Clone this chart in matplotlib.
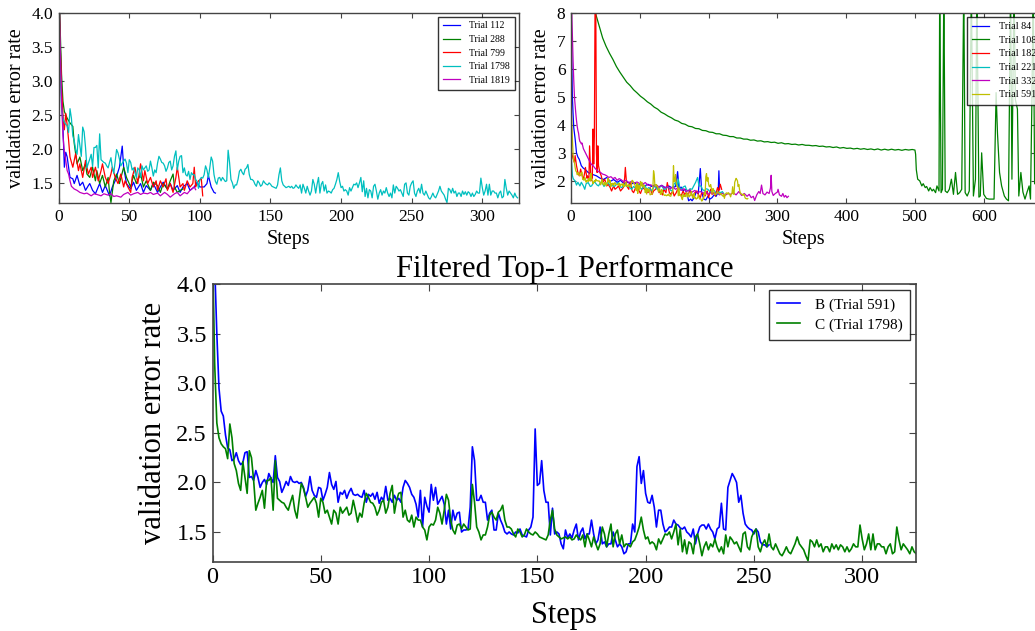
import matplotlib
matplotlib.use("Agg")
import matplotlib.pyplot as plt

plt.rcParams['font.family'] = ['Liberation Serif', 'DejaVu Serif']
plt.rcParams['xtick.direction'] = 'in'
plt.rcParams['ytick.direction'] = 'in'
plt.rcParams['xtick.top'] = True
plt.rcParams['ytick.right'] = True

# ---- data -------------------------------------------------------------
# B (Trial 591), one value per step
trial_591 = [
    4.6, 4.2, 3.5, 2.95, 2.72, 2.67, 2.48, 2.35, 2.33, 2.22,
    2.24, 2.30, 2.22, 2.18, 2.20, 2.30, 2.31, 2.05, 2.06, 2.02,
    2.12, 2.05, 1.95, 2.00, 2.03, 1.98, 2.09, 2.04, 2.00, 2.27,
    2.05, 2.01, 1.90, 1.95, 2.01, 1.97, 2.06, 2.01, 2.00, 2.01,
    1.99, 2.00, 1.95, 1.86, 1.92, 2.06, 1.92, 1.87, 1.85, 1.95,
    1.94, 1.82, 1.88, 1.95, 2.10, 1.98, 1.93, 2.01, 1.80, 1.90,
    1.88, 1.92, 1.84, 1.90, 1.94, 1.88, 1.87, 1.88, 1.86, 1.85,
    1.92, 1.80, 1.88, 1.86, 1.89, 1.83, 1.90, 1.79, 1.85, 1.82,
    1.96, 1.82, 1.84, 1.80, 1.87, 1.82, 1.84, 1.80, 1.95, 2.02,
    1.99, 1.95, 1.88, 1.85, 1.78, 1.65, 1.92, 1.55, 1.85, 1.76,
    1.70, 1.98, 1.82, 1.95, 1.78, 1.82, 1.86, 1.78, 1.58, 1.72,
    1.53, 1.72, 1.62, 1.69, 1.70, 1.50, 1.52, 1.52, 1.53, 1.75,
    2.36, 2.22, 1.82, 1.82, 1.87, 1.80, 1.80, 1.62, 1.69, 1.72,
    1.52, 1.52, 1.69, 1.62, 1.57, 1.50, 1.48, 1.50, 1.48, 1.47,
    1.50, 1.49, 1.53, 1.47, 1.46, 1.45, 1.52, 1.55, 1.65, 2.54,
    1.97, 1.99, 2.22, 1.92, 1.80, 1.80, 1.47, 1.74, 1.48, 1.50,
    1.48, 1.38, 1.33, 1.52, 1.44, 1.48, 1.44, 1.52, 1.58, 1.42,
    1.50, 1.54, 1.43, 1.48, 1.48, 1.62, 1.48, 1.38, 1.42, 1.55,
    1.38, 1.40, 1.35, 1.38, 1.38, 1.50, 1.42, 1.35, 1.38, 1.35,
    1.28, 1.30, 1.38, 1.38, 1.58, 1.50, 2.16, 2.26, 1.99, 2.12,
    1.89, 1.80, 1.79, 1.87, 1.75, 1.55, 1.72, 1.72, 1.58, 1.50,
    1.52, 1.55, 1.55, 1.62, 1.58, 1.57, 1.54, 1.53, 1.55, 1.50,
    1.48, 1.45, 1.53, 1.38, 1.48, 1.55, 1.57, 1.57, 1.53, 1.58,
    1.53, 1.50, 1.43, 1.53, 1.55, 1.79, 1.53, 1.52, 1.95, 2.02,
    2.09, 2.05, 2.00, 1.80, 1.87, 1.69, 1.58, 1.55, 1.53, 1.52,
    1.48, 1.53, 1.50, 1.40, 1.37, 1.37, 1.35, 1.37,
]

# C (Trial 1798), one value per step
trial_1798 = [
    4.4, 3.2, 2.6, 2.45, 2.39, 2.36, 2.34, 2.24, 2.59, 2.45,
    2.19, 2.12, 1.99, 1.92, 2.21, 2.05, 1.89, 2.32, 2.25, 2.02,
    1.72, 1.79, 1.85, 1.92, 1.74, 2.02, 2.02, 2.05, 1.72, 2.22,
    1.84, 1.82, 1.80, 1.79, 1.75, 1.72, 1.80, 1.87, 1.72, 1.64,
    1.82, 1.99, 1.94, 1.85, 1.75, 1.79, 1.82, 1.85, 1.79, 1.65,
    1.84, 1.80, 1.69, 1.72, 1.65, 1.58, 1.72, 1.69, 1.58, 1.75,
    1.69, 1.72, 1.75, 1.67, 1.69, 1.82, 1.72, 1.60, 1.69, 1.65,
    1.79, 1.89, 1.85, 1.80, 1.79, 1.75, 1.67, 1.72, 1.80, 1.82,
    1.69, 1.75, 1.89, 1.97, 1.69, 1.82, 1.89, 1.90, 1.65, 1.72,
    1.62, 1.60, 1.67, 1.55, 1.65, 1.62, 1.62, 1.55, 1.52, 1.42,
    1.55, 1.58, 1.57, 1.62, 1.75, 1.69, 1.58, 1.72, 1.88, 1.82,
    1.62, 1.52, 1.48, 1.57, 1.58, 1.53, 1.58, 1.55, 1.52, 1.53,
    1.98, 1.80, 1.55, 1.50, 1.42, 1.47, 1.47, 1.55, 1.67, 1.70,
    1.65, 1.62, 1.70, 1.72, 1.77, 1.62, 1.55, 1.55, 1.53, 1.48,
    1.45, 1.53, 1.50, 1.45, 1.47, 1.53, 1.50, 1.48, 1.47, 1.50,
    1.48, 1.45, 1.44, 1.43, 1.42, 1.47, 1.62, 1.72, 1.53, 1.47,
    1.45, 1.43, 1.44, 1.45, 1.43, 1.45, 1.42, 1.43, 1.47, 1.44,
    1.42, 1.47, 1.35, 1.48, 1.42, 1.35, 1.45, 1.38, 1.32, 1.38,
    1.55, 1.48, 1.35, 1.48, 1.58, 1.35, 1.48, 1.52, 1.38, 1.47,
    1.35, 1.38, 1.37, 1.35, 1.40, 1.42, 1.48, 1.55, 1.65, 1.52,
    1.43, 1.45, 1.38, 1.40, 1.38, 1.32, 1.43, 1.38, 1.43, 1.48,
    1.47, 1.50, 1.43, 1.50, 1.58, 1.37, 1.53, 1.30, 1.42, 1.28,
    1.40, 1.38, 1.28, 1.45, 1.48, 1.38, 1.26, 1.35, 1.40, 1.32,
    1.38, 1.35, 1.43, 1.35, 1.30, 1.35, 1.28, 1.47, 1.35, 1.45,
    1.42, 1.38, 1.40, 1.35, 1.30, 1.48, 1.50, 1.35, 1.32, 1.45,
    1.50, 1.53, 1.35, 1.30, 1.38, 1.42, 1.35, 1.48, 1.35, 1.32,
    1.38, 1.33, 1.28, 1.26, 1.30, 1.35, 1.30, 1.28, 1.33, 1.38,
    1.45, 1.38, 1.35, 1.32, 1.26, 1.21, 1.42, 1.40, 1.35, 1.42,
    1.35, 1.38, 1.30, 1.35, 1.35, 1.30, 1.38, 1.33, 1.37, 1.32,
    1.37, 1.35, 1.30, 1.35, 1.30, 1.33, 1.38, 1.35, 1.35, 1.57,
    1.43, 1.32, 1.38, 1.48, 1.32, 1.48, 1.32, 1.38, 1.38, 1.35,
    1.35, 1.28, 1.35, 1.38, 1.28, 1.30, 1.55, 1.42, 1.32, 1.38,
    1.35, 1.32, 1.28, 1.35, 1.30, 1.28,
]

# other trials as (step, value) pairs
trial_112 = [
    (0, 4.6), (1, 3.6), (2, 2.8), (3, 2.33), (4, 1.73), (5, 1.95), (6, 1.88),
    (7, 1.73), (8, 1.58), (10, 1.56), (11, 1.49), (13, 1.61), (15, 1.46),
    (17, 1.51), (19, 1.39), (21, 1.46), (22, 1.49), (24, 1.39), (26, 1.34),
    (29, 1.49), (31, 1.36), (33, 1.46), (36, 1.31), (38, 1.44), (40, 1.53),
    (43, 1.73), (45, 2.04), (46, 1.73), (48, 1.49), (51, 1.41), (53, 1.51),
    (55, 1.39), (58, 1.49), (60, 1.36), (62, 1.46), (65, 1.39), (67, 1.49),
    (70, 1.36), (72, 1.44), (74, 1.51), (77, 1.41), (79, 1.49), (81, 1.39),
    (84, 1.46), (86, 1.36), (88, 1.44), (91, 1.49), (93, 1.39), (96, 1.44),
    (98, 1.51), (100, 1.44), (103, 1.44), (105, 1.49), (106, 1.61),
    (108, 1.44), (110, 1.36), (111, 1.35),
]
trial_288 = [
    (0, 4.5), (1, 3.8), (2, 3.1), (3, 2.7), (4, 2.55), (6, 2.45), (8, 2.38),
    (10, 2.33), (11, 2.08), (12, 1.93), (13, 1.78), (15, 1.88), (17, 1.68),
    (19, 1.78), (20, 1.63), (22, 1.58), (24, 1.73), (26, 1.53), (27, 1.68),
    (29, 1.49), (31, 1.61), (33, 1.44), (35, 1.58), (36, 1.36), (37, 1.21),
    (39, 1.53), (41, 1.63), (43, 1.49), (46, 1.73), (48, 1.58), (51, 1.44),
    (53, 1.61), (55, 1.49), (58, 1.63), (60, 1.44), (62, 1.53), (65, 1.39),
    (67, 1.51), (70, 1.46), (72, 1.36), (74, 1.49), (77, 1.41), (79, 1.53),
    (81, 1.63), (82, 1.44), (84, 1.36), (86, 1.39), (88, 1.41),
]
trial_799 = [
    (0, 4.5), (1, 3.6), (2, 2.9), (3, 2.5), (4, 2.28), (5, 2.52), (6, 2.35),
    (7, 2.13), (8, 1.88), (10, 1.73), (12, 1.93), (14, 1.68), (15, 1.78),
    (17, 1.58), (19, 1.83), (21, 1.63), (23, 1.73), (24, 1.58), (26, 1.73),
    (28, 1.53), (30, 1.68), (31, 1.78), (33, 1.58), (35, 1.49), (37, 1.63),
    (38, 1.73), (40, 1.58), (42, 1.49), (44, 1.63), (46, 1.44), (47, 1.53),
    (49, 1.44), (51, 1.36), (52, 1.58), (54, 1.73), (56, 1.49), (58, 1.78),
    (60, 1.53), (61, 1.68), (63, 1.49), (65, 1.58), (67, 1.44), (69, 1.53),
    (70, 1.39), (72, 1.53), (74, 1.44), (76, 1.56), (77, 1.39), (79, 1.49),
    (81, 1.36), (83, 1.58), (84, 1.73), (86, 1.44), (88, 1.49), (89, 1.39),
    (91, 1.53), (93, 1.44), (95, 1.49), (96, 1.73), (97, 1.44), (99, 1.53),
    (101, 1.56), (102, 1.31),
]
trial_1819 = [
    (0, 4.5), (1, 3.5), (2, 2.7), (3, 2.2), (4, 1.95), (5, 1.83), (6, 1.68),
    (7, 1.63), (8, 1.53), (9, 1.45), (11, 1.41), (13, 1.39), (15, 1.36),
    (18, 1.34), (20, 1.35), (23, 1.31), (25, 1.34), (27, 1.33), (30, 1.31),
    (32, 1.34), (35, 1.32), (37, 1.34), (39, 1.30), (41, 1.31), (44, 1.29),
    (46, 1.33), (49, 1.36), (51, 1.32), (53, 1.34), (56, 1.36), (58, 1.33),
    (60, 1.35), (63, 1.34), (65, 1.36), (67, 1.33), (70, 1.35), (72, 1.31),
    (75, 1.36), (77, 1.33), (79, 1.29), (82, 1.34), (84, 1.36), (86, 1.31),
    (89, 1.36), (91, 1.34), (93, 1.39), (96, 1.44), (97, 1.40),
]

trial_84 = [
    (0, 8.5), (1, 6.5), (2, 5.0), (3, 4.4), (4, 3.9), (6, 3.5), (8, 3.0),
    (10, 2.85), (12, 2.77), (15, 2.54), (18, 2.45), (20, 2.42), (25, 2.30),
    (30, 2.24), (37, 2.18), (42, 2.10), (47, 2.05), (52, 2.12), (57, 1.98),
    (62, 2.05), (67, 1.95), (72, 2.02), (77, 1.90), (82, 1.96), (87, 1.88),
    (92, 1.94), (97, 1.85), (102, 1.90), (107, 1.82), (112, 1.88),
    (117, 1.80), (122, 1.86), (127, 1.78), (132, 1.84), (137, 1.76),
    (142, 1.82), (147, 1.75), (152, 1.80), (155, 2.33), (157, 1.72),
    (160, 1.78), (163, 1.65), (166, 1.70), (169, 1.50), (171, 1.29),
    (174, 1.35), (176, 1.29), (179, 1.40), (182, 1.60), (185, 1.55),
    (188, 2.44), (190, 1.60), (193, 1.35), (196, 1.32), (199, 1.45),
    (202, 1.35), (205, 1.40), (208, 1.50), (211, 1.45), (214, 1.60),
    (215, 2.36), (216, 1.70),
]
trial_108 = [
    (30, 8.6), (36, 7.95), (41, 7.52), (46, 7.10), (51, 6.80), (56, 6.55),
    (61, 6.33), (66, 6.08), (71, 5.88), (76, 5.70), (81, 5.52), (86, 5.40),
    (91, 5.25), (96, 5.14), (101, 5.02), (106, 4.93), (111, 4.82),
    (116, 4.74), (121, 4.63), (126, 4.56), (131, 4.45), (136, 4.39),
    (141, 4.31), (146, 4.25), (151, 4.17), (156, 4.13), (161, 4.05),
    (166, 4.02), (171, 3.95), (176, 3.93), (181, 3.87), (186, 3.86),
    (191, 3.80), (196, 3.79), (201, 3.74), (206, 3.73), (211, 3.68),
    (216, 3.68), (221, 3.63), (226, 3.62), (231, 3.58), (236, 3.58),
    (241, 3.53), (246, 3.53), (251, 3.49), (256, 3.49), (261, 3.45),
    (266, 3.46), (271, 3.42), (276, 3.43), (281, 3.39), (286, 3.40),
    (291, 3.37), (296, 3.38), (301, 3.34), (306, 3.36), (311, 3.32),
    (316, 3.33), (321, 3.30), (326, 3.31), (331, 3.28), (336, 3.30),
    (341, 3.27), (346, 3.27), (351, 3.25), (356, 3.26), (361, 3.23),
    (366, 3.24), (371, 3.21), (376, 3.22), (381, 3.19), (386, 3.21),
    (391, 3.17), (396, 3.19), (401, 3.16), (406, 3.17), (411, 3.14),
    (416, 3.16), (421, 3.13), (426, 3.15), (431, 3.12), (436, 3.14),
    (441, 3.11), (446, 3.14), (451, 3.10), (456, 3.13), (461, 3.10),
    (466, 3.13), (471, 3.10), (476, 3.12), (481, 3.09), (486, 3.12),
    (491, 3.10), (496, 3.12), (500, 3.10), (501, 2.95), (502, 2.4),
    (504, 2.06), (507, 2.0), (510, 1.82), (512, 1.9), (515, 1.76),
    (517, 1.8), (520, 1.64), (522, 1.76), (525, 1.64), (527, 1.7),
    (530, 1.58), (532, 1.82), (535, 1.64), (536, 9.0), (538, 1.58),
    (540, 1.7), (542, 9.0), (544, 1.64), (547, 1.58), (550, 1.7),
    (553, 2.06), (556, 1.52), (559, 2.3), (562, 1.52), (565, 1.58),
    (568, 1.7), (571, 9.0), (573, 1.58), (576, 1.46), (579, 1.64),
    (582, 9.0), (585, 1.46), (588, 2.06), (590, 9.0), (593, 1.42),
    (595, 1.46), (597, 3.0), (600, 1.52), (604, 1.37), (608, 1.35),
    (613, 1.35), (615, 1.35), (618, 5.15), (620, 3.7), (623, 2.3),
    (626, 1.82), (630, 1.46), (633, 1.35), (636, 1.29), (639, 9.0),
    (641, 2.06), (644, 9.0), (646, 4.9), (649, 4.56), (651, 1.46),
    (654, 2.3), (657, 1.6), (660, 1.35), (663, 1.6), (666, 1.82),
    (668, 1.35), (670, 4.8), (672, 9.0), (674, 1.9),
]
trial_182 = [
    (0, 3.1), (1, 3.0), (3, 2.8), (5, 2.65), (6, 2.9), (8, 2.54), (10, 2.3),
    (12, 2.18), (14, 2.42), (16, 2.2), (18, 2.06), (20, 2.3), (21, 2.48),
    (23, 2.1), (24, 2.18), (26, 2.0), (27, 3.25), (29, 2.0), (31, 2.1),
    (32, 3.85), (33, 2.6), (34, 3.6), (35, 8.5), (36, 8.5), (37, 3.0),
    (38, 2.3), (39, 3.25), (40, 2.54), (42, 2.3), (44, 2.18), (46, 1.94),
    (49, 2.06), (52, 1.82), (54, 1.88), (57, 1.76), (59, 1.64), (62, 1.82),
    (64, 1.70), (67, 1.76), (69, 1.82), (72, 1.64), (74, 1.70), (76, 1.76),
    (78, 2.10), (79, 2.48), (81, 1.82), (84, 1.70), (86, 1.94), (89, 1.64),
    (91, 1.58), (94, 1.76), (96, 1.82), (99, 1.64), (101, 1.55),
    (104, 1.76), (107, 1.70), (110, 1.64), (112, 1.58), (115, 1.76),
    (118, 1.52), (120, 1.64), (123, 1.70), (125, 1.82), (128, 1.58),
    (130, 1.64), (133, 1.50), (135, 1.70), (138, 1.58), (140, 1.94),
    (143, 1.58), (145, 1.52), (148, 1.64), (150, 1.46), (153, 1.58),
    (155, 1.70), (158, 1.52), (160, 1.46), (163, 1.64), (165, 1.52),
    (168, 1.58), (170, 1.46), (173, 1.70), (175, 1.52), (178, 1.46),
    (180, 1.58), (183, 1.64), (185, 1.52), (188, 1.40), (190, 1.58),
    (193, 1.52), (195, 1.46), (198, 1.64), (200, 1.40), (203, 1.70),
    (205, 1.52), (208, 1.58), (210, 1.46), (213, 1.76), (215, 1.64),
    (217, 1.88), (219, 1.70),
]
trial_221 = [
    (0, 3.0), (1, 2.6), (2, 2.2), (3, 2.1), (4, 2.05), (6, 2.0), (8, 1.85),
    (10, 1.95), (13, 1.82), (15, 1.95), (18, 1.82), (20, 1.7), (22, 1.9),
    (25, 1.94), (28, 1.80), (30, 1.82), (33, 1.95), (35, 1.94), (38, 1.85),
    (40, 1.82), (43, 1.95), (45, 1.94), (48, 1.80), (50, 1.88), (54, 1.94),
    (57, 1.82), (59, 1.88), (62, 1.80), (64, 1.82), (67, 1.90), (69, 1.94),
    (72, 1.78), (74, 1.76), (77, 1.88), (79, 1.88), (81, 1.80), (84, 1.82),
    (86, 1.75), (88, 1.70), (91, 1.80), (93, 1.76), (96, 1.85), (98, 1.88),
    (101, 1.74), (103, 1.70), (106, 1.82), (108, 1.82), (110, 1.70),
    (113, 1.76), (115, 1.72), (118, 1.64), (120, 1.76), (122, 1.82),
    (125, 1.70), (127, 1.70), (130, 1.80), (132, 1.82), (135, 1.70),
    (137, 1.70), (140, 1.78), (142, 1.76), (145, 1.66), (147, 1.64),
    (150, 1.90), (152, 1.94), (154, 1.80), (156, 2.06), (158, 1.75),
    (161, 1.70), (163, 1.78), (166, 1.82), (168, 1.68), (171, 1.64),
    (173, 1.72), (176, 1.70), (178, 1.80), (181, 1.94), (184, 2.12),
    (186, 1.82), (189, 1.82), (191, 1.70), (194, 1.64), (196, 1.72),
    (199, 1.70), (201, 1.64), (204, 1.58), (206, 1.68), (209, 1.64),
    (211, 1.55), (214, 1.52), (216, 1.60), (218, 1.58), (220, 1.62),
    (222, 1.55),
]
trial_332 = [
    (0, 8.5), (1, 8.1), (2, 7.2), (3, 6.3), (4, 5.6), (5, 5.0), (6, 4.7),
    (7, 4.4), (8, 4.15), (9, 3.95), (10, 3.8), (11, 3.7), (12, 3.5),
    (13, 3.4), (14, 3.38), (15, 3.32), (16, 3.35), (18, 3.15), (20, 3.05),
    (22, 2.95), (24, 2.85), (26, 2.75), (28, 2.65), (30, 2.58), (32, 2.55),
    (34, 2.48), (36, 2.42), (38, 2.38), (40, 2.33), (43, 2.30), (46, 2.24),
    (49, 2.22), (52, 2.18), (55, 2.12), (58, 2.15), (61, 2.08), (64, 2.12),
    (67, 2.02), (70, 2.08), (73, 2.04), (76, 1.98), (80, 2.02), (84, 1.94),
    (88, 1.98), (92, 1.92), (96, 1.96), (100, 1.90), (104, 1.88),
    (108, 1.94), (112, 1.84), (116, 1.86), (120, 1.80), (124, 1.86),
    (128, 1.78), (132, 1.84), (136, 1.74), (140, 1.80), (144, 1.72),
    (148, 1.78), (152, 1.70), (156, 1.76), (160, 1.66), (164, 1.72),
    (168, 1.62), (172, 1.68), (176, 1.60), (180, 1.66), (184, 1.58),
    (188, 1.62), (192, 1.56), (196, 1.62), (200, 1.52), (204, 1.60),
    (208, 1.54), (212, 1.58), (216, 1.50), (220, 1.56), (224, 1.48),
    (228, 1.55), (232, 1.52), (236, 1.58), (240, 1.50), (244, 1.62),
    (248, 1.48), (252, 1.55), (256, 1.45), (259, 1.52), (262, 1.40),
    (265, 1.45), (267, 1.30), (270, 1.50), (273, 1.62), (275, 1.55),
    (277, 1.85), (279, 1.55), (282, 1.50), (285, 1.60), (288, 1.55),
    (290, 1.75), (291, 2.20), (292, 1.62), (294, 1.48), (297, 1.55),
    (300, 1.60), (301, 1.70), (303, 1.50), (306, 1.45), (308, 1.55),
    (310, 1.42), (312, 1.48), (314, 1.40), (316, 1.45),
]

left_trials = [("Trial 112", trial_112, "b"), ("Trial 288", trial_288, "g"),
               ("Trial 799", trial_799, "r"), ("Trial 1798", trial_1798, "c"),
               ("Trial 1819", trial_1819, "m")]
right_trials = [("Trial 84", trial_84, "b"), ("Trial 108", trial_108, "g"),
                ("Trial 182", trial_182, "r"), ("Trial 221", trial_221, "c"),
                ("Trial 332", trial_332, "m"), ("Trial 591", trial_591, "y")]

classic = {"b": "#0000ff", "g": "#008000", "r": "#ff0000",
           "c": "#00bfbf", "m": "#bf00bf", "y": "#bfbf00"}


def unpack(series):
    # per-step list or (step, value) pairs
    if isinstance(series[0], tuple):
        xs = [p[0] for p in series]
        ys = [p[1] for p in series]
    else:
        xs = list(range(len(series)))
        ys = series
    return xs, ys


def style_axes(ax, tick_size, tick_len, spine_lw):
    for sp in ax.spines.values():
        sp.set_color("#444444")
        sp.set_linewidth(spine_lw)
    ax.tick_params(which="major", length=tick_len, width=0.8, labelsize=tick_size,
                   color="#444444", pad=4)


def boxed_legend(leg):
    leg.get_frame().set_edgecolor("black")
    leg.get_frame().set_linewidth(1.0)


W, H = 1035, 631
fig = plt.figure(figsize=(W / 100, H / 100), dpi=100)

# ---- top left --------------------------------------------------------
ax1 = fig.add_axes([58.7 / W, 1 - 203.3 / H, (519 - 58.7) / W, (203.3 - 12.7) / H])
for name, series, col in left_trials:
    xs, ys = unpack(series)
    ax1.plot(xs, ys, color=classic[col], lw=0.9, label=name)
ax1.set_xlim(0, 326)
ax1.set_ylim(1.2, 4.0)
ax1.set_xticks([0, 50, 100, 150, 200, 250, 300])
ax1.set_yticks([1.5, 2.0, 2.5, 3.0, 3.5, 4.0])
style_axes(ax1, 12.5, 3.5, 1.0)
ax1.set_xlabel("Steps", fontsize=14.5, labelpad=4)
ax1.set_ylabel("validation error rate", fontsize=14.5, labelpad=4)
leg1 = ax1.legend(loc="upper right", fontsize=7, frameon=True, fancybox=False,
                  handlelength=1.7, handletextpad=1.0, borderpad=0.5,
                  labelspacing=0.47, borderaxespad=0.4)
boxed_legend(leg1)

# ---- top right -------------------------------------------------------
ax2 = fig.add_axes([571 / W, 1 - 203.3 / H, (1036 - 571) / W, (203.3 - 12.7) / H])
for name, series, col in right_trials:
    xs, ys = unpack(series)
    ax2.plot(xs, ys, color=classic[col], lw=0.9, label=name)
ax2.set_xlim(0, 676)
ax2.set_ylim(1.2, 8.0)
ax2.set_xticks([0, 100, 200, 300, 400, 500, 600])
ax2.set_yticks([2, 3, 4, 5, 6, 7, 8])
style_axes(ax2, 12.5, 3.5, 1.0)
ax2.set_xlabel("Steps", fontsize=14.5, labelpad=4)
ax2.set_ylabel("validation error rate", fontsize=14.5, labelpad=4)
# legend sits partly past the right edge of the figure, as in the source
leg2 = ax2.legend(loc="upper left", bbox_to_anchor=(967 / W, 1 - 17 / H),
                  bbox_transform=fig.transFigure, fontsize=7.3, frameon=True,
                  fancybox=False, handlelength=1.7, handletextpad=1.0,
                  borderpad=0.5, labelspacing=0.45, borderaxespad=0)
boxed_legend(leg2)

# ---- bottom ----------------------------------------------------------
ax3 = fig.add_axes([212.5 / W, 1 - 561.7 / H, (916.3 - 212.5) / W, (561.7 - 284.3) / H])
xs, ys = unpack(trial_591)
ax3.plot(xs, ys, color="#0000ff", lw=1.2, label="B (Trial 591)")
xs, ys = unpack(trial_1798)
ax3.plot(xs, ys, color="#008000", lw=1.2, label="C (Trial 1798)")
ax3.set_xlim(0, 325)
ax3.set_ylim(1.2, 4.0)
ax3.set_xticks([0, 50, 100, 150, 200, 250, 300])
ax3.set_yticks([1.5, 2.0, 2.5, 3.0, 3.5, 4.0])
style_axes(ax3, 17.5, 5, 1.2)
ax3.set_xlabel("Steps", fontsize=22, labelpad=9)
ax3.set_ylabel("validation error rate", fontsize=22, labelpad=6)
ax3.set_title("Filtered Top-1 Performance", fontsize=22, pad=2)
leg3 = ax3.legend(loc="upper right", fontsize=11, frameon=True, fancybox=False,
                  handlelength=1.5, handletextpad=1.0, borderpad=0.5,
                  labelspacing=0.4, borderaxespad=0.4)
boxed_legend(leg3)

fig.savefig("out.png", dpi=100, facecolor="white")
